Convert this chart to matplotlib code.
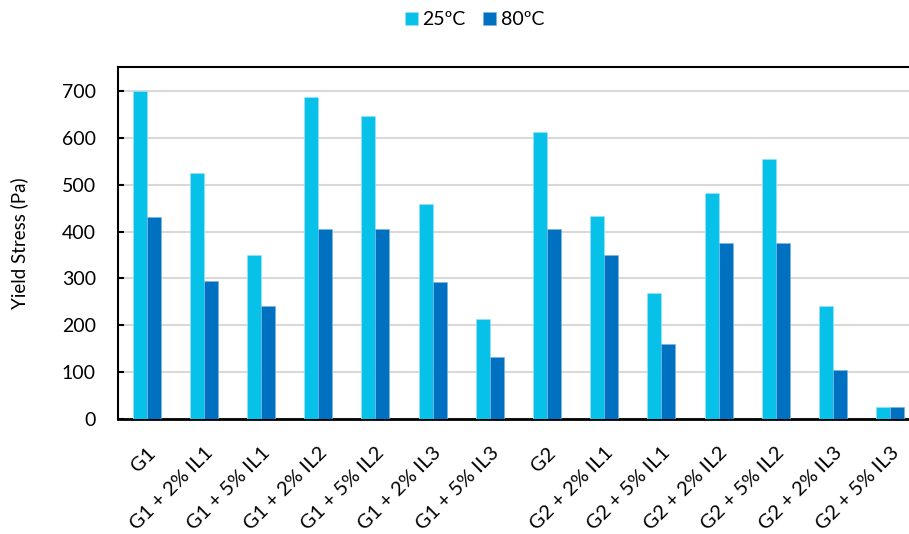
import matplotlib
matplotlib.use("Agg")
import matplotlib.pyplot as plt
import numpy as np

categories = ["G1", "G1 + 2% IL1", "G1 + 5% IL1", "G1 + 2% IL2", "G1 + 5% IL2",
              "G1 + 2% IL3", "G1 + 5% IL3", "G2", "G2 + 2% IL1", "G2 + 5% IL1",
              "G2 + 2% IL2", "G2 + 5% IL2", "G2 + 2% IL3", "G2 + 5% IL3"]
stress_25 = [700, 525, 350, 687, 647, 459, 213, 612, 433, 269, 482, 555, 241, 26]
stress_80 = [431, 294, 241, 405, 405, 292, 132, 405, 350, 160, 376, 376, 105, 25]
series_names = ["25ºC", "80ºC"]
yticks = [0, 100, 200, 300, 400, 500, 600, 700]

plt.rcParams["font.family"] = ["Lato", "DejaVu Sans"]

fig = plt.figure(figsize=(9.09, 5.34), dpi=100)
ax = fig.add_axes([0.1298, 0.2154, 0.881, 0.659])

x = np.arange(len(categories))
w = 0.245
ax.bar(x - w / 2, stress_25, w, color="#08C1E8", edgecolor="#9BE3F5", linewidth=0.5,
       label=series_names[0], zorder=3)
ax.bar(x + w / 2, stress_80, w, color="#0070C0", edgecolor="#7FB3E0", linewidth=0.5,
       label=series_names[1], zorder=3)

ax.set_xlim(-0.5, len(categories) - 0.5)
ax.set_ylim(0, 751)
ax.set_yticks(yticks)
ax.set_xticks(x)
ax.set_xticklabels(categories, rotation=45, ha="right", rotation_mode="anchor", fontsize=14.5)
ax.tick_params(axis="x", length=0, pad=18)
ax.tick_params(axis="y", labelsize=14, length=4.5, width=1.5, direction="in", pad=16)
ax.grid(axis="y", color="#D9D9D9", linewidth=1.5, zorder=0)
ax.set_axisbelow(True)

for side in ["left", "top", "right"]:
    ax.spines[side].set_linewidth(1.5)
ax.spines["bottom"].set_linewidth(2)

ax.set_ylabel("Yield Stress (Pa)", fontsize=13.5, labelpad=24)

fig.legend(loc="upper center", bbox_to_anchor=(0.522, 1.012), ncol=2, frameon=False,
           fontsize=14, handlelength=0.67, handleheight=0.67, handletextpad=0.25,
           columnspacing=0.9)

fig.savefig("out.png", dpi=100)
plt.close(fig)
